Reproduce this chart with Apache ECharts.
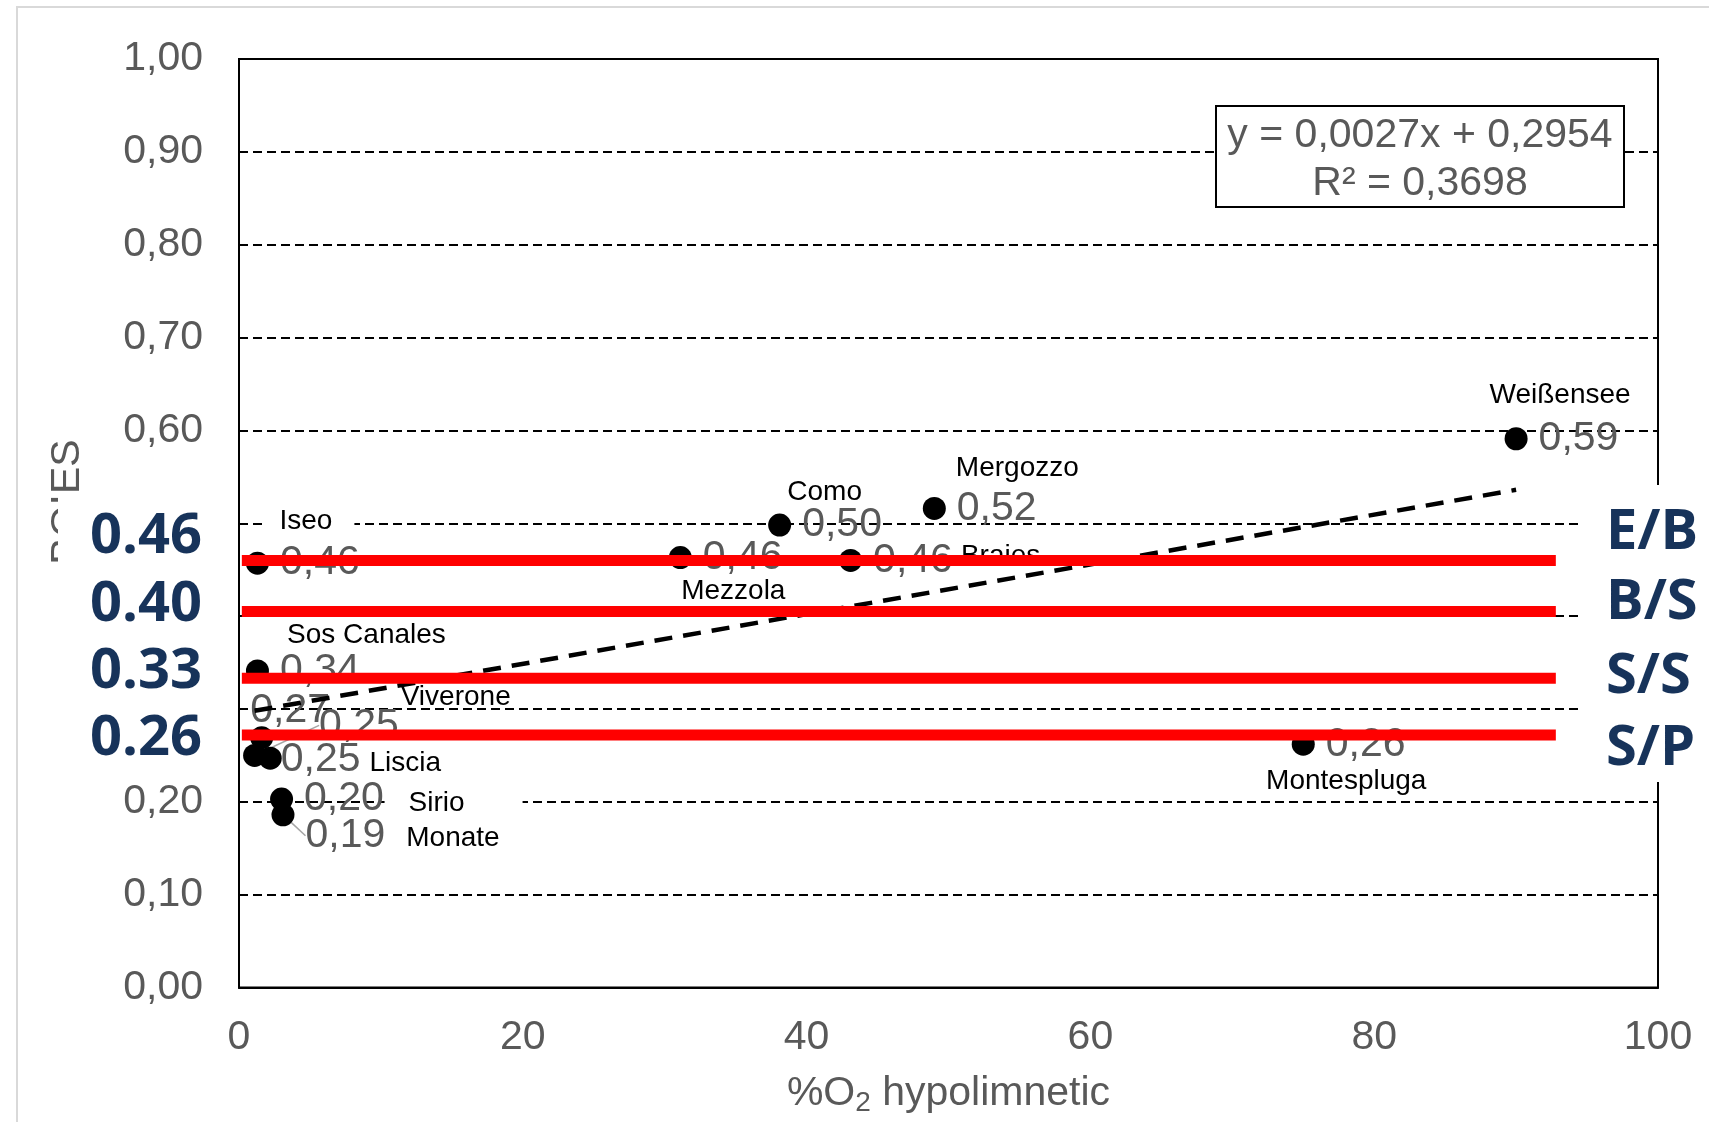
<!DOCTYPE html>
<html>
<head>
<meta charset="utf-8">
<script src="https://cdn.jsdelivr.net/npm/echarts@6/dist/echarts.min.js"></script>
<style>
    html, body { margin: 0; padding: 0; background: #fff; }
    #chart { width: 1709px; height: 1122px; }
</style>
</head>
<body>
<div id="chart"></div>
<script>
    // lakes, in plotting order
    var lakeNames = ['Iseo', 'Sos Canales', 'Viverone', '', 'Liscia', 'Sirio', 'Monate',
                     'Mezzola', 'Como', 'Braies', 'Mergozzo', 'Montespluga', 'Weißensee'];
    // %O2 hypolimnetic
    var o2Values = [1.3, 1.3, 1.6, 1.1, 2.2, 3.0, 3.1, 31.1, 38.1, 43.1, 49.0, 75.0, 90.0];
    // BQIES
    var bqiesValues = [0.457, 0.341, 0.269, 0.250, 0.247, 0.203, 0.186, 0.463, 0.498, 0.460, 0.516, 0.262, 0.591];

    // linear trend (ends)
    var trendX = [1.1, 90];
    var trendY = [0.298, 0.536];
    var equationLines = ['y = 0,0027x + 0,2954', 'R² = 0,3698'];

    // class boundaries (red lines) and their captions
    var boundaryValues = [0.46, 0.405, 0.333, 0.272];
    var boundaryCaptions = ['0.46', '0.40', '0.33', '0.26'];
    var classCaptions = ['E/B', 'B/S', 'S/S', 'S/P'];
    var boundaryXRange = [0.2, 92.8];

    // label placement (px offsets from the dot)
    var nameOffsets = [[52, -42], [109, -36], [194, -40], [0, 0], [135, 5], [172, 4], [170, 23],
                       [53, 34], [45, -33], [150, -4], [83, -40], [43, 37], [44, -43]];
    var valueShift = { 2: [-34, -27], 3: [42, -30], 4: [-12, 2], 6: [0, 21] };
    var leaderIdx = [2, 3, 6];
    var nameBg = { 0: [2, 22, 2, 15], 5: [2, 58, 2, 24] };

    var FONT = '"Liberation Sans", Arial, sans-serif';
    var GREY = '#595959';
    var NAVY = '#17335a';

    var chart = echarts.init(document.getElementById('chart'));

    var pointData = o2Values.map(function (x, i) {
        var d = { value: [x, bqiesValues[i]], name: lakeNames[i] };
        if (leaderIdx.indexOf(i) >= 0) {
            d.labelLine = { show: true, lineStyle: { color: '#a6a6a6', width: 1.5 } };
        }
        return d;
    });

    var nameData = o2Values.map(function (x, i) {
        var lbl = { offset: nameOffsets[i] };
        if (nameBg[i]) {
            lbl.backgroundColor = '#fff';
            lbl.padding = nameBg[i];
        }
        return { value: [x, bqiesValues[i]], name: lakeNames[i], label: lbl };
    });

    var redSeries = boundaryValues.map(function (v, i) {
        return {
            name: 'limit' + i,
            type: 'line',
            data: [[boundaryXRange[0], v], [boundaryXRange[1], v]],
            symbol: 'none',
            silent: true,
            z: 10,
            lineStyle: { color: '#ff0000', width: 11, cap: 'butt' }
        };
    });

    var graphics = [
        // light frame of the slide
        { type: 'rect', z: 0, shape: { x: 17, y: 7, width: 1800, height: 1200 },
          style: { fill: 'none', stroke: '#d9d9d9', lineWidth: 2 } },
        // equation box
        { type: 'rect', z: 50, shape: { x: 1216, y: 106, width: 408, height: 101 },
          style: { fill: '#fff', stroke: '#000', lineWidth: 2 } },
        { type: 'text', z: 51, x: 1420, y: 136,
          style: { text: equationLines[0], font: '41px ' + FONT, fill: GREY, align: 'center', verticalAlign: 'middle' } },
        { type: 'text', z: 51, x: 1420, y: 184,
          style: { text: equationLines[1], font: '41px ' + FONT, fill: GREY, align: 'center', verticalAlign: 'middle' } },
        // y axis title
        { type: 'text', z: 20, x: 68, y: 502, rotation: Math.PI / 2,
          style: { text: 'BQIES', font: '41px ' + FONT, fill: GREY, align: 'center', verticalAlign: 'middle' } },
        // pasted white boxes
        { type: 'rect', z: 100, shape: { x: 58, y: 497, width: 178, height: 285 }, style: { fill: '#fff' } },
        { type: 'rect', z: 100, shape: { x: 1578, y: 485, width: 140, height: 297 }, style: { fill: '#fff' } }
    ];
    var capY = [537, 605, 672, 739];
    var clsY = [533, 603, 677, 749];
    boundaryCaptions.forEach(function (t, i) {
        graphics.push({ type: 'text', z: 101, x: 202, y: capY[i],
            style: { text: t, font: 'bold 56px "Open Sans", sans-serif', fill: NAVY, align: 'right', verticalAlign: 'middle' } });
    });
    classCaptions.forEach(function (t, i) {
        graphics.push({ type: 'text', z: 101, x: 1606, y: clsY[i],
            style: { text: t, font: 'bold 56px "Open Sans", sans-serif', fill: NAVY, align: 'left', verticalAlign: 'middle' } });
    });

    var option = {
        animation: false,
        backgroundColor: '#fff',
        grid: {
            left: 239, right: 51, top: 59, bottom: 134.5,
            containLabel: false,
            outerBoundsMode: 'none',
            show: true,
            borderColor: '#000',
            borderWidth: 2
        },
        xAxis: {
            type: 'value',
            min: 0, max: 100, interval: 20,
            axisLine: { show: true, lineStyle: { color: '#000', width: 2 } },
            axisTick: { show: false },
            splitLine: { show: false },
            axisLabel: { margin: 30, fontSize: 41, color: GREY, fontFamily: FONT },
            name: '{a|%O}{sub|2}{a| hypolimnetic}',
            nameLocation: 'middle',
            nameGap: 82,
            nameTextStyle: {
                rich: {
                    a: { fontSize: 41, color: GREY, fontFamily: FONT, lineHeight: 48, verticalAlign: 'middle' },
                    sub: { fontSize: 28, color: GREY, fontFamily: FONT, lineHeight: 20, verticalAlign: 'bottom' }
                }
            }
        },
        yAxis: {
            type: 'value',
            min: 0, max: 1, interval: 0.1,
            axisLine: { show: true, lineStyle: { color: '#000', width: 2 } },
            axisTick: { show: false },
            splitLine: { show: true, lineStyle: { color: '#000', width: 2, type: [9, 5] } },
            axisLabel: {
                margin: 36, fontSize: 41, color: GREY, fontFamily: FONT,
                formatter: function (v) { return v.toFixed(2).replace('.', ','); }
            }
        },
        graphic: graphics,
        series: [{
            name: 'lakes',
            type: 'scatter',
            data: pointData,
            symbolSize: 23,
            z: 3,
            itemStyle: { color: '#000', opacity: 1 },
            label: {
                show: true,
                position: 'right',
                distance: 11,
                fontSize: 41,
                color: GREY,
                fontFamily: FONT,
                formatter: function (p) { return p.value[1].toFixed(2).replace('.', ','); }
            },
            labelLayout: function (p) {
                var s = valueShift[p.dataIndex];
                return s ? { dx: s[0], dy: s[1] } : {};
            }
        }, {
            name: 'names',
            type: 'scatter',
            data: nameData,
            symbolSize: 2,
            silent: true,
            z: 4,
            itemStyle: { color: 'rgba(0,0,0,0)', opacity: 1 },
            label: {
                show: true,
                position: 'inside',
                fontSize: 28,
                color: '#000',
                fontFamily: FONT,
                formatter: '{b}'
            }
        }, {
            name: 'trend',
            type: 'line',
            data: trendX.map(function (x, i) { return [x, trendY[i]]; }),
            symbol: 'none',
            silent: true,
            z: 5,
            lineStyle: { color: '#000', width: 4.5, type: [18, 11] }
        }].concat(redSeries)
    };

    chart.setOption(option);
    window.addEventListener('resize', function () {
        chart.resize();
    });
</script>
</body>
</html>
